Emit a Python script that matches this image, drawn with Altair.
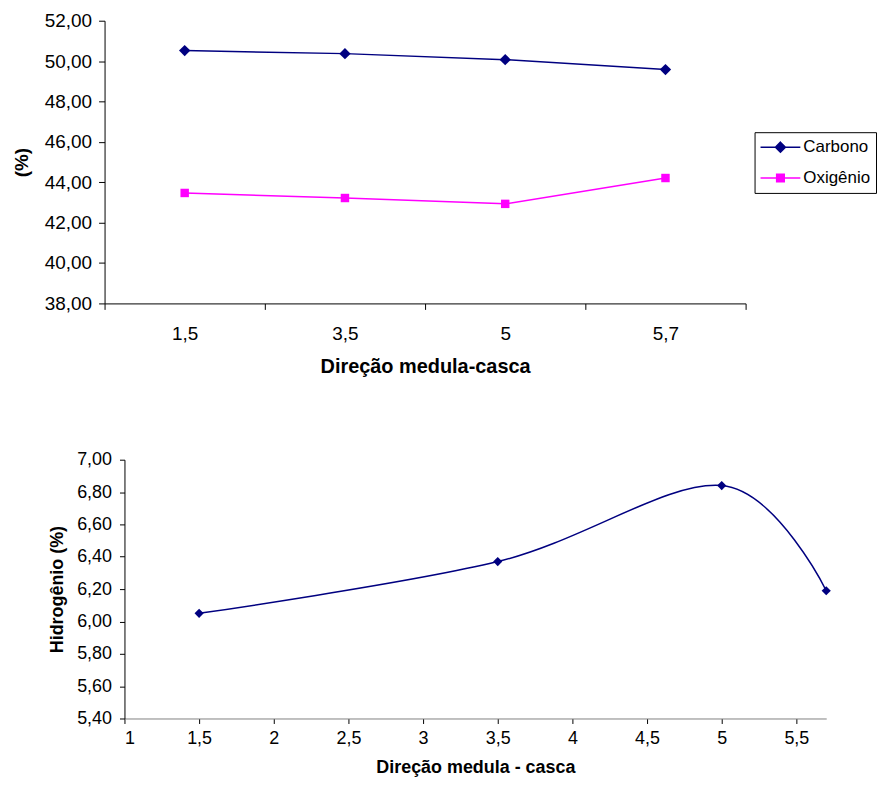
import altair as alt
import pandas as pd

# ---------------- data ----------------
positions = ["1,5", "3,5", "5", "5,7"]
carbono = [50.52, 50.37, 50.07, 49.58]
oxigenio = [43.47, 43.22, 42.93, 44.21]
series_names = ["Carbono", "Oxigênio"]
series_colors = ["#000080", "#FF00FF"]

h_x = [1.5, 3.5, 5.0, 5.7]
hidrogenio = [6.05, 6.37, 6.84, 6.19]

top_y_ticks = [38, 40, 42, 44, 46, 48, 50, 52]
bot_y_ticks = [5.4, 5.6, 5.8, 6.0, 6.2, 6.4, 6.6, 6.8, 7.0]
bot_x_ticks = [1, 1.5, 2, 2.5, 3, 3.5, 4, 4.5, 5, 5.5]

top_df = pd.DataFrame({
    "pos": positions * 2,
    "valor": carbono + oxigenio,
    "serie": [series_names[0]] * len(positions) + [series_names[1]] * len(positions),
})
bot_df = pd.DataFrame({"x": h_x, "h": hidrogenio})

FONT = "Liberation Sans"
NAVY, MAGENTA = series_colors
comma2 = "replace(format(datum.value, '.2f'), '.', ',')"

# ---------------- top chart ----------------
# legend symbol: a line with the marker in its middle
LINE = "M-1,0H1"
DIAMOND = LINE + "M0,-0.25L0.25,0L0,0.25L-0.25,0Z"
SQUARE = LINE + "M-0.19,-0.19H0.19V0.19H-0.19Z"
is_c = "datum.value === 'Carbono'"

legend = alt.Legend(
    title=None, orient="none", legendX=653, legendY=112,
    padding=5, strokeColor="black", fillColor="white",
    labelFont=FONT, labelFontSize=17, labelColor="black", labelOffset=2,
    symbolSize=1600, symbolStrokeWidth=1.5, rowPadding=11, clipHeight=20,
    symbolType={"expr": f"{is_c} ? '{DIAMOND}' : '{SQUARE}'"},
    symbolFillColor={"expr": f"{is_c} ? '{NAVY}' : '{MAGENTA}'"},
    symbolStrokeColor={"expr": f"{is_c} ? '{NAVY}' : '{MAGENTA}'"},
    symbolOpacity=1,
)
color = alt.Color("serie:N", scale=alt.Scale(domain=series_names, range=series_colors), legend=legend)

x_top = alt.X("pos:N", sort=positions, title="Direção medula-casca",
              scale=alt.Scale(type="band", domain=positions, paddingInner=0, paddingOuter=0),
              axis=alt.Axis(labelAngle=0, tickBand="extent", tickSize=6, labelPadding=15, titlePadding=13,
                            labelFontSize=19, titleFontSize=20))
y_top = alt.Y("valor:Q", title="(%)",
              scale=alt.Scale(domain=[38, 52], nice=False, zero=False),
              axis=alt.Axis(values=top_y_ticks, labelExpr=comma2, tickSize=6, labelPadding=7, titlePadding=13,
                            labelFontSize=19, titleFontSize=19))

base_top = alt.Chart(top_df)
lines = base_top.mark_line(strokeWidth=1.5).encode(x=x_top, y=y_top, color=color)
pts_c = base_top.transform_filter(alt.datum.serie == series_names[0]).mark_point(
    shape="diamond", filled=True, size=130, opacity=1).encode(x=x_top, y=y_top, color=color)
pts_o = base_top.transform_filter(alt.datum.serie == series_names[1]).mark_point(
    shape="square", filled=True, size=72, opacity=1).encode(x=x_top, y=y_top, color=color)
top = alt.layer(lines, pts_c, pts_o).properties(width=644, height=284)

# ---------------- bottom chart ----------------
x_bot = alt.X("x:Q", title="Direção medula - casca",
              scale=alt.Scale(domain=[1, 5.7], nice=False, zero=False),
              axis=alt.Axis(values=bot_x_ticks, labelExpr="replace(format(datum.value, '~g'), '.', ',')",
                            tickSize=5, labelPadding=6, titlePadding=11, domainColor="#808080",
                            labelFontSize=18, titleFontSize=18))
y_bot = alt.Y("h:Q", title="Hidrogênio (%)",
              scale=alt.Scale(domain=[5.4, 7.0], nice=False, zero=False),
              axis=alt.Axis(values=bot_y_ticks, labelExpr=comma2, tickSize=5, labelPadding=8, titlePadding=10,
                            labelFontSize=18, titleFontSize=18))
base_bot = alt.Chart(bot_df)
hline = base_bot.mark_line(interpolate="cardinal", color=NAVY, strokeWidth=1.5).encode(x=x_bot, y=y_bot)
hpts = base_bot.mark_point(shape="diamond", filled=True, size=85, color=NAVY, opacity=1).encode(x=x_bot, y=y_bot)
bottom = alt.layer(hline, hpts).properties(width=705, height=260)

spacer = alt.Chart(bot_df).mark_point(opacity=0).encode(
    x=alt.value(0), y=alt.value(0)).properties(width=10, height=260)
row2 = alt.hconcat(spacer, bottom, spacing=10, bounds="flush")

chart = alt.vconcat(top, row2, spacing=157, bounds="flush").properties(
    padding={"left": 4, "top": 2, "right": 0, "bottom": 0}
).configure_view(strokeWidth=0).configure_axis(
    grid=False, domainColor="black", tickColor="black", labelColor="black", titleColor="black",
    labelFont=FONT, titleFont=FONT, titleFontWeight="bold",
    domainWidth=1, tickWidth=1,
)

chart.save("out.html", embed_options={"renderer": "svg", "actions": False})
